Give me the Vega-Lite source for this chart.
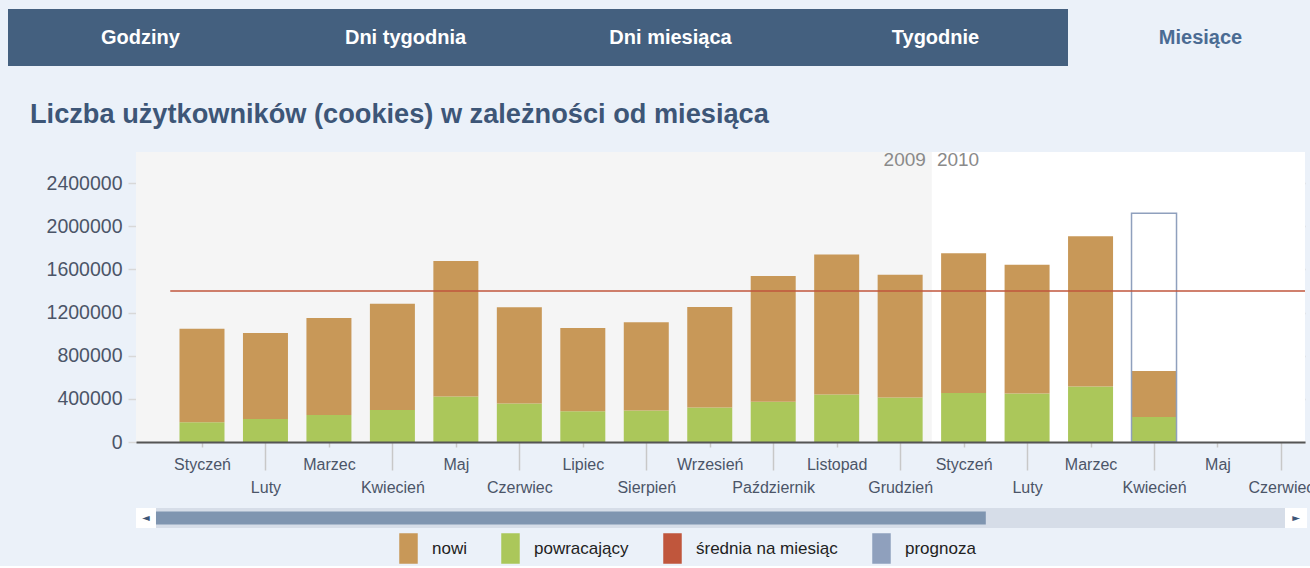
{
  "$schema": "https://vega.github.io/schema/vega-lite/v6.json",
  "background": "#ebf1f9",
  "padding": {"left": 8, "top": 9, "right": 5, "bottom": 0},
  "config": {"view": {"stroke": null}, "font": "Liberation Sans"},
  "datasets": {
    "zakladki": [
      {"zakladka": "Godziny", "aktywna": false},
      {"zakladka": "Dni tygodnia", "aktywna": false},
      {"zakladka": "Dni miesiąca", "aktywna": false},
      {"zakladka": "Tygodnie", "aktywna": false},
      {"zakladka": "Miesiące", "aktywna": true}
    ],
    "miesiace": [
      {"m": 0, "seria": "powracający", "wartosc": 183000}, {"m": 0, "seria": "nowi", "wartosc": 867000},
      {"m": 1, "seria": "powracający", "wartosc": 214000}, {"m": 1, "seria": "nowi", "wartosc": 796000},
      {"m": 2, "seria": "powracający", "wartosc": 251000}, {"m": 2, "seria": "nowi", "wartosc": 898000},
      {"m": 3, "seria": "powracający", "wartosc": 297000}, {"m": 3, "seria": "nowi", "wartosc": 985000},
      {"m": 4, "seria": "powracający", "wartosc": 421000}, {"m": 4, "seria": "nowi", "wartosc": 1257000},
      {"m": 5, "seria": "powracający", "wartosc": 356000}, {"m": 5, "seria": "nowi", "wartosc": 892000},
      {"m": 6, "seria": "powracający", "wartosc": 285000}, {"m": 6, "seria": "nowi", "wartosc": 771000},
      {"m": 7, "seria": "powracający", "wartosc": 291000}, {"m": 7, "seria": "nowi", "wartosc": 818000},
      {"m": 8, "seria": "powracający", "wartosc": 319000}, {"m": 8, "seria": "nowi", "wartosc": 932000},
      {"m": 9, "seria": "powracający", "wartosc": 372000}, {"m": 9, "seria": "nowi", "wartosc": 1167000},
      {"m": 10, "seria": "powracający", "wartosc": 440000}, {"m": 10, "seria": "nowi", "wartosc": 1297000},
      {"m": 11, "seria": "powracający", "wartosc": 412000}, {"m": 11, "seria": "nowi", "wartosc": 1139000},
      {"m": 12, "seria": "powracający", "wartosc": 455000}, {"m": 12, "seria": "nowi", "wartosc": 1295000},
      {"m": 13, "seria": "powracający", "wartosc": 449000}, {"m": 13, "seria": "nowi", "wartosc": 1195000},
      {"m": 14, "seria": "powracający", "wartosc": 514000}, {"m": 14, "seria": "nowi", "wartosc": 1394000},
      {"m": 15, "seria": "powracający", "wartosc": 232000}, {"m": 15, "seria": "nowi", "wartosc": 427000}
    ],
    "prognoza": [{"m": 15, "wartosc": 2121000}],
    "srednia": [{"wartosc": 1400000}],
    "lata": [{"rok": "2009"}],
    "pasek": [{"widok_od": 0, "widok_do": 0.735}]
  },
  "spacing": 34,
  "vconcat": [
    {
      "data": {"name": "zakladki"},
      "width": 1169,
      "height": 57,
      "encoding": {
        "x": {"field": "zakladka", "type": "nominal", "sort": null, "axis": null, "title": null,
              "scale": {"range": [-128, 1197], "paddingInner": 0, "paddingOuter": 0}}
      },
      "layer": [
        {
          "mark": {"type": "rect"},
          "encoding": {
            "color": {"condition": {"test": "datum.aktywna", "value": "#ebf1f9"}, "value": "#44607f"}
          }
        },
        {
          "mark": {"type": "text", "fontSize": 20, "fontWeight": "bold", "font": "Liberation Sans"},
          "encoding": {
            "text": {"field": "zakladka"},
            "color": {"condition": {"test": "datum.aktywna", "value": "#4a6b93"}, "value": "#ffffff"}
          }
        }
      ]
    },
    {
      "spacing": 13,
      "vconcat": [
        {
          "width": 1169,
          "height": 290,
          "title": {
            "text": "Liczba użytkowników (cookies) w zależności od miesiąca",
            "anchor": "start", "frame": "bounds", "offset": 22, "dx": 22,
            "fontSize": 27.2, "fontWeight": "bold", "color": "#3d5677", "font": "Liberation Sans"
          },
          "layer": [
            {
              "data": {"name": "lata"},
              "mark": {"type": "rect", "color": "#ffffff", "clip": true},
              "encoding": {
                "x": {"datum": -2, "type": "quantitative", "title": null,
                      "scale": {"domain": [-0.961, 17.3], "nice": false, "zero": false},
                      "axis": {
                        "values": [0, 1, 2, 3, 4, 5, 6, 7, 8, 9, 10, 11, 12, 13, 14, 15, 16, 17],
                        "labelExpr": "['Styczeń','Luty','Marzec','Kwiecień','Maj','Czerwiec','Lipiec','Sierpień','Wrzesień','Październik','Listopad','Grudzień'][datum.value % 12]",
                        "grid": false, "domainColor": "#555555", "domainWidth": 2,
                        "tickColor": "#c8c8c8", "tickWidth": 1.5,
                        "tickSize": {"condition": {"test": "datum.value % 2 == 1", "value": 28}, "value": 5},
                        "labelPadding": 9, "labelFontSize": 16, "labelColor": "#4b5568",
                        "labelFlush": false, "labelOverlap": false, "labelBound": false, "zindex": 1
                      }},
                "x2": {"datum": 20}
              }
            },
            {
              "data": {"name": "lata"},
              "mark": {"type": "rect", "color": "#000000", "opacity": 0.04, "clip": true},
              "encoding": {
                "x": {"datum": -2, "type": "quantitative"},
                "x2": {"datum": 11.5}
              }
            },
            {
              "data": {"name": "lata"},
              "mark": {"type": "text", "align": "right", "dx": -6, "baseline": "middle", "fontSize": 19, "color": "#8a8a8a"},
              "encoding": {
                "x": {"datum": 11.5, "type": "quantitative"},
                "y": {"datum": 2616000, "type": "quantitative"},
                "text": {"field": "rok"}
              }
            },
            {
              "data": {"name": "lata"},
              "mark": {"type": "text", "align": "left", "dx": 5, "baseline": "middle", "fontSize": 19, "color": "#8a8a8a"},
              "encoding": {
                "x": {"datum": 11.5, "type": "quantitative"},
                "y": {"datum": 2616000, "type": "quantitative"},
                "text": {"value": "2010"}
              }
            },
            {
              "data": {"name": "miesiace"},
              "mark": {"type": "bar", "width": 45},
              "encoding": {
                "x": {"field": "m", "type": "quantitative", "title": null},
                "y": {"field": "wartosc", "type": "quantitative", "stack": "zero", "title": null,
                      "scale": {"domain": [0, 2688000], "nice": false, "zero": true},
                      "axis": {
                        "values": [0, 400000, 800000, 1200000, 1600000, 2000000, 2400000],
                        "format": "d", "grid": true, "gridColor": "#d8d8d8", "gridWidth": 1.5,
                        "domain": false, "tickSize": 8, "tickColor": "#d8d8d8", "tickWidth": 1.5,
                        "labelPadding": 6, "labelFontSize": 19.5, "labelColor": "#4b5568",
                        "minExtent": 128, "labelFlush": false
                      }},
                "color": {
                  "field": "seria", "type": "nominal", "title": null,
                  "scale": {"domain": ["nowi", "powracający", "średnia na miesiąc", "prognoza"],
                            "range": ["#c89858", "#abc75a", "#c0563c", "#8fa0bd"]},
                  "legend": {
                    "orient": "none", "legendX": 257, "legendY": 524, "direction": "horizontal",
                    "title": null, "symbolSize": 841, "symbolType": "M-0.586,-1H0.586V1H-0.586Z",
                    "labelFontSize": 17, "labelColor": "#222222",
                    "labelOffset": 8, "columnPadding": 28, "labelFont": "Liberation Sans"
                  }
                },
                "order": {"field": "seria", "sort": "descending"}
              }
            },
            {
              "data": {"name": "prognoza"},
              "mark": {"type": "bar", "width": 45, "filled": false, "strokeWidth": 1.5},
              "encoding": {
                "x": {"field": "m", "type": "quantitative"},
                "y": {"field": "wartosc", "type": "quantitative", "stack": null},
                "color": {"datum": "prognoza"}
              }
            },
            {
              "data": {"name": "srednia"},
              "mark": {"type": "rule", "strokeWidth": 1.5, "clip": true},
              "encoding": {
                "x": {"datum": -0.5, "type": "quantitative"},
                "x2": {"datum": 18},
                "y": {"field": "wartosc", "type": "quantitative"},
                "color": {"datum": "średnia na miesiąc"}
              }
            }
          ]
        },
        {
          "data": {"name": "pasek"},
          "width": 1171,
          "height": 20,
          "layer": [
            {
              "mark": {"type": "rect", "color": "#ffffff"},
              "encoding": {
                "x": {"datum": -0.0177, "type": "quantitative", "axis": null, "title": null,
                      "scale": {"domain": [-0.0177, 1.0195], "nice": false, "zero": false}},
                "x2": {"datum": 1.0195}
              }
            },
            {
              "mark": {"type": "rect", "color": "#d6dde8"},
              "encoding": {
                "x": {"datum": 0, "type": "quantitative"},
                "x2": {"datum": 1}
              }
            },
            {
              "mark": {"type": "rect", "color": "#7f95b0"},
              "encoding": {
                "x": {"field": "widok_od", "type": "quantitative"},
                "x2": {"field": "widok_do"},
                "y": {"datum": 0.17, "type": "quantitative", "axis": null, "title": null,
                      "scale": {"domain": [0, 1], "nice": false}},
                "y2": {"datum": 0.83}
              }
            },
            {
              "mark": {"type": "text", "font": "DejaVu Sans", "fontSize": 10, "color": "#3d5677"},
              "encoding": {
                "x": {"datum": -0.0089, "type": "quantitative"},
                "text": {"value": "◄"}
              }
            },
            {
              "mark": {"type": "text", "font": "DejaVu Sans", "fontSize": 10, "color": "#3d5677"},
              "encoding": {
                "x": {"datum": 1.0098, "type": "quantitative"},
                "text": {"value": "►"}
              }
            }
          ]
        }
      ]
    }
  ]
}
